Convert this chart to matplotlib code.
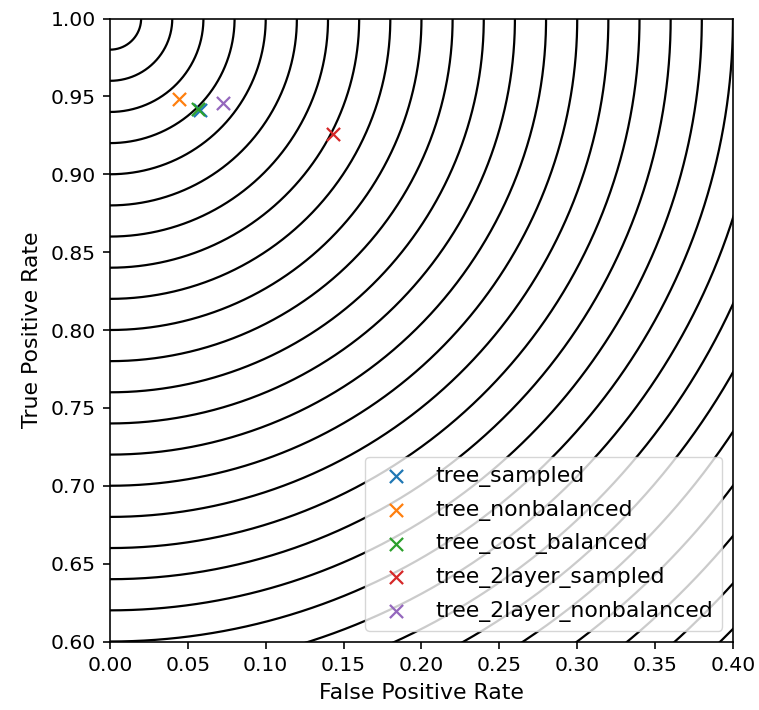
import matplotlib
matplotlib.use("Agg")
import matplotlib.pyplot as plt
import numpy as np

# (FPR, TPR) of each classifier
names = [
    "tree_sampled",
    "tree_nonbalanced",
    "tree_cost_balanced",
    "tree_2layer_sampled",
    "tree_2layer_nonbalanced",
]
fpr = [0.0578, 0.0443, 0.0563, 0.1434, 0.0723]
tpr = [0.9415, 0.9485, 0.9417, 0.9260, 0.9460]

# iso-distance arcs around the ideal point (0, 1)
radii = np.arange(0.02, 0.62, 0.02)

# scale everything up as if drawn at ~146 dpi
S = 1.46
plt.rcParams.update({
    "font.size": 15.8,
    "xtick.labelsize": 10 * S,
    "ytick.labelsize": 10 * S,
    "axes.linewidth": 0.8 * S,
    "xtick.major.size": 3.5 * S,
    "ytick.major.size": 3.5 * S,
    "xtick.major.width": 0.8 * S,
    "ytick.major.width": 0.8 * S,
    "xtick.major.pad": 3.5 * S,
    "ytick.major.pad": 3.5 * S,
    "axes.labelpad": 4 * S,
})


def main():
    fig = plt.figure(figsize=(7.59, 7.10), dpi=100)
    ax = fig.add_axes([0.1449, 0.0958, 0.8208, 0.8788])

    theta = np.linspace(-np.pi / 2, 0, 600)
    for r in radii:
        ax.plot(r * np.cos(theta), 1 + r * np.sin(theta), color="black", lw=1.6)

    for x, y, name in zip(fpr, tpr, names):
        ax.scatter(x, y, marker="x", s=90, linewidths=1.6, label=name, zorder=3)

    ax.set_xlim(0, 0.4)
    ax.set_ylim(0.6, 1.0)
    ax.set_aspect("equal")
    ax.set_xticks(np.arange(0, 0.401, 0.05))
    ax.set_yticks(np.arange(0.6, 1.001, 0.05))
    ax.set_xlabel("False Positive Rate")
    ax.set_ylabel("True Positive Rate")
    ax.legend(loc="lower right", borderaxespad=0.5, labelspacing=0.58)

    fig.savefig("out.png", dpi=100)


if __name__ == "__main__":
    main()
